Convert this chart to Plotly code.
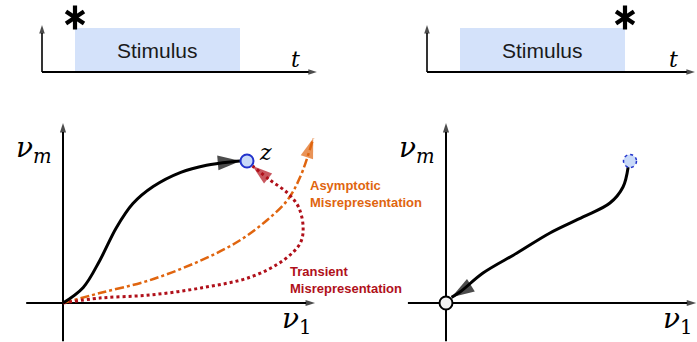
import plotly.graph_objects as go

W, H = 697, 342

# ---- timeline panels (stimulus on/off, t axis length) ----
stim_on, stim_off = 1.0, 6.0
stim_level = 1.0
t_end_left, t_end_right = 8.33, 8.12
t_axis_top = 1.07
star_level = 1.24

# ---- phase-plane panels: trajectories in (nu_1, nu_m) ----
target = (1.0, 1.0)
origin = (0.0, 0.0)

correct_x = [0.0, 0.11, 0.20, 0.29, 0.38, 0.49, 0.64, 0.78, 0.92, 0.965]
correct_y = [0.0, 0.11, 0.30, 0.53, 0.70, 0.82, 0.92, 0.97, 0.995, 1.0]

asym_x = [0.0, 0.20, 0.47, 0.75, 0.96, 1.11, 1.22, 1.29, 1.36]
asym_y = [0.0, 0.07, 0.16, 0.30, 0.44, 0.585, 0.725, 0.89, 1.16]

trans_x = [0.0, 0.20, 0.47, 0.75, 1.02, 1.20, 1.29, 1.305, 1.28, 1.22, 1.125, 1.03]
trans_y = [0.0, 0.035, 0.056, 0.106, 0.183, 0.303, 0.423, 0.535, 0.676, 0.775, 0.866, 0.965]

decay_x = [0.99, 0.962, 0.891, 0.745, 0.565, 0.386, 0.201, 0.076, 0.03]
decay_y = [0.958, 0.817, 0.704, 0.606, 0.493, 0.352, 0.211, 0.077, 0.04]

BLACK = "#000000"
ORANGE = "#e0650f"
RED = "#b0101a"
STIM_FILL = "#d4e2fa"
DOT_FILL = "#c9daf8"
DOT_EDGE = "#2233cc"


def dom_x(p0, p1):
    return [p0 / W, p1 / W]


def dom_y(p_top, p_bot):
    return [1 - p_bot / H, 1 - p_top / H]


def rng_x(o, s, p0, p1):
    return [(p0 - o) / s, (p1 - o) / s]


def rng_y(o, s, p_top, p_bot):
    return [(o - p_bot) / s, (o - p_top) / s]


fig = go.Figure()

# panel geometry: (x-domain px, y-domain px, origin px, px per unit)
panels = {
    "1": dict(dx=(0, 350), dy=(0, 95), o=(42, 72), s=(33, 44)),
    "2": dict(dx=(350, 697), dy=(0, 95), o=(427, 72), s=(33, 44)),
    "3": dict(dx=(0, 345), dy=(100, 342), o=(63, 303), s=(184, 142)),
    "4": dict(dx=(350, 697), dy=(100, 342), o=(446, 303), s=(184, 142)),
}

axis_common = dict(visible=False, fixedrange=True)
for k, p in panels.items():
    xn = "xaxis" if k == "1" else f"xaxis{k}"
    yn = "yaxis" if k == "1" else f"yaxis{k}"
    xa = "x" if k == "1" else f"x{k}"
    ya = "y" if k == "1" else f"y{k}"
    fig.layout[xn] = dict(domain=dom_x(*p["dx"]), range=rng_x(p["o"][0], p["s"][0], *p["dx"]),
                          anchor=ya, **axis_common)
    fig.layout[yn] = dict(domain=dom_y(*p["dy"]), range=rng_y(p["o"][1], p["s"][1], *p["dy"]),
                          anchor=xa, **axis_common)

ann = []


def arrow_path(xr, yr, xs, ys, color, width, head, dash="solid", spline=False):
    """Line through the points with an arrowhead whose tip sits on the last point."""
    n = len(xs)
    fig.add_trace(go.Scatter(
        x=xs, y=ys, mode="lines+markers", xaxis=xr, yaxis=yr,
        line=dict(color=color, width=width, dash=dash, shape="spline" if spline else "linear"),
        marker=dict(symbol="arrow", angleref="previous", size=[0] * (n - 1) + [head],
                    color=color, line=dict(width=0)),
        hoverinfo="skip", showlegend=False, cliponaxis=False))


def star(xr, yr, x, y):
    """Six-spoke heavy asterisk built from two opposed 'Y' markers."""
    for sym in ("y-up-open", "y-down-open"):
        fig.add_trace(go.Scatter(x=[x], y=[y], mode="markers", xaxis=xr, yaxis=yr,
                                 marker=dict(symbol=sym, size=15, color=BLACK,
                                             line=dict(color=BLACK, width=4.2)),
                                 hoverinfo="skip", showlegend=False, cliponaxis=False))


# ---- stimulus timelines ----
for xr, yr, t_end, star_t in (("x", "y", t_end_left, stim_on), ("x2", "y2", t_end_right, stim_off)):
    fig.add_trace(go.Bar(x=[(stim_on + stim_off) / 2], y=[stim_level], width=[stim_off - stim_on],
                         marker=dict(color=STIM_FILL, line=dict(width=0)), xaxis=xr, yaxis=yr,
                         hoverinfo="skip", showlegend=False))
    ann.append(dict(xref=xr, yref=yr, x=(stim_on + stim_off) / 2, y=stim_level / 2, text="Stimulus",
                    showarrow=False, font=dict(family="Liberation Sans, Arial", size=21, color="#1a1a1a")))
    arrow_path(xr, yr, [0, t_end], [0, 0], BLACK, 2, 9)
    arrow_path(xr, yr, [0, 0], [0, t_axis_top], BLACK, 1.6, 9)
    ann.append(dict(xref=xr, yref=yr, x=t_end - 0.65, y=0.28, text="<i>t</i>", showarrow=False,
                    font=dict(family="DejaVu Serif", size=22, color=BLACK)))
    star(xr, yr, star_t, star_level)

# ---- phase plane axes ----
for xr, yr, xlo, xhi in (("x3", "y3", -0.20, 1.37), ("x4", "y4", -0.207, 1.36)):
    arrow_path(xr, yr, [xlo, xhi], [0, 0], BLACK, 2, 10)
    arrow_path(xr, yr, [0, 0], [-0.27, 1.268], BLACK, 2, 10)

# nu labels
for xr, yr, nm_x, n1_x in (("x3", "y3", -0.155, 1.27), ("x4", "y4", -0.155, 1.26)):
    ann.append(dict(xref=xr, yref=yr, x=nm_x, y=1.08, text="<i>ν</i><sub><i>m</i></sub>",
                    showarrow=False, font=dict(family="DejaVu Serif", size=28, color=BLACK)))
    ann.append(dict(xref=xr, yref=yr, x=n1_x, y=-0.12, text="<i>ν</i><sub>1</sub>",
                    showarrow=False, font=dict(family="DejaVu Serif", size=28, color=BLACK)))

# left panel trajectories
arrow_path("x3", "y3", asym_x, asym_y, ORANGE, 2.5, 21, dash="dashdot", spline=True)
arrow_path("x3", "y3", trans_x, trans_y, RED, 3, 21, dash="dot", spline=True)
arrow_path("x3", "y3", correct_x, correct_y, BLACK, 3, 24, spline=True)

fig.add_trace(go.Scatter(x=[target[0]], y=[target[1]], mode="markers", xaxis="x3", yaxis="y3",
                         marker=dict(size=13, color=DOT_FILL, line=dict(color=DOT_EDGE, width=2)),
                         hoverinfo="skip", showlegend=False))
ann.append(dict(xref="x3", yref="y3", x=target[0] + 0.1, y=target[1] + 0.06, text="<i>z</i>",
                showarrow=False, font=dict(family="DejaVu Serif", size=22, color=BLACK)))

ann.append(dict(xref="x3", yref="y3", x=1.33, y=0.765, xanchor="left", align="left",
                text="<b>Asymptotic<br>Misrepresentation</b>", showarrow=False,
                font=dict(family="Liberation Sans, Arial", size=13, color=ORANGE)))
ann.append(dict(xref="x3", yref="y3", x=1.225, y=0.16, xanchor="left", align="left",
                text="<b>Transient<br>Misrepresentation</b>", showarrow=False,
                font=dict(family="Liberation Sans, Arial", size=13, color=RED)))

# right panel: decay back to the origin
arrow_path("x4", "y4", decay_x, decay_y, BLACK, 3, 24, spline=True)
fig.add_trace(go.Scatter(x=[origin[0]], y=[origin[1]], mode="markers", xaxis="x4", yaxis="y4",
                         marker=dict(size=13, color="#f2f2f2", line=dict(color=BLACK, width=2)),
                         hoverinfo="skip", showlegend=False, cliponaxis=False))

shapes = [dict(type="circle", xref="x4", yref="y4", xsizemode="pixel", ysizemode="pixel",
               xanchor=target[0], yanchor=target[1], x0=-6.5, x1=6.5, y0=-6.5, y1=6.5,
               fillcolor=DOT_FILL, line=dict(color=DOT_EDGE, width=1.5, dash="dot"))]

fig.update_layout(width=W, height=H, margin=dict(l=0, r=0, t=0, b=0),
                  paper_bgcolor="white", plot_bgcolor="rgba(0,0,0,0)",
                  annotations=ann, shapes=shapes, bargap=0)

fig.write_html("out.html", config={"displayModeBar": False})
